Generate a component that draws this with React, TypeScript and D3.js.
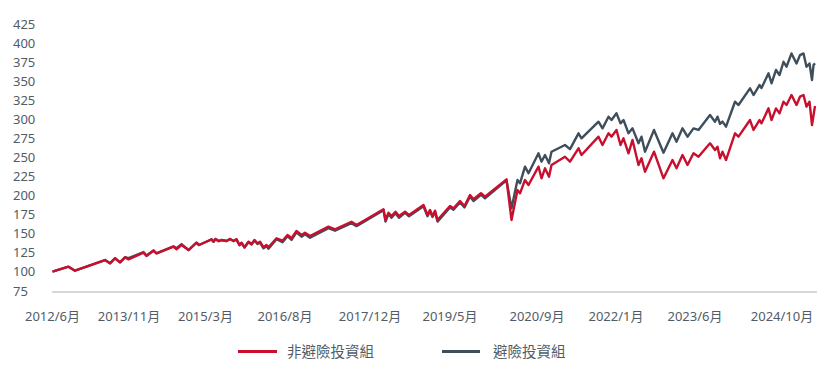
import * as d3 from 'd3'

// x positions are period indices on the chart's category axis
const periods = [
  0, 3.2, 4.5, 10.5, 11.5, 12.5, 13.5, 14.5, 15.2, 18.2, 18.8, 20.2, 20.8, 24.2, 24.8, 25.8, 27.2, 28.8, 29.3,
  31.2, 31.8, 32.2, 32.6, 33.2, 33.8, 34.8, 35.5, 36.2, 36.8, 37.4, 37.8, 38.4, 39.2, 39.8, 40.4, 41, 41.5,
  42.2, 42.8, 43.2, 44.8, 46, 47, 47.8, 48.8, 49.8, 50.5, 51.5, 55.2, 56.5, 59.8, 60.8,
  66.2, 66.6, 67.2, 67.8, 68.6, 69.3, 70.5, 71.3, 74.2, 75, 75.5, 76, 76.5, 77, 79.5, 80.2, 81.5, 82.4,
  83.5, 84.2, 85.7, 86.5, 90.8, 91.8, 93, 93.5, 94.5, 95.2, 97.2, 97.8, 98.5, 99.3, 99.8, 102.5, 103.5,
  105.2, 105.8, 109.2, 110, 111.2, 111.8, 112.8, 113.6, 114.2, 115.2, 116, 117.2, 117.8, 118.5, 120.3,
  122.2, 124, 124.8, 126, 127, 128.2, 129.2, 131.5, 132.5, 133, 133.5, 134, 134.7, 136.5, 137.2, 139.5,
  140.2, 141.4, 141.8, 143.2, 143.8, 144.7, 145.4, 146.2, 146.8, 147.8, 148.8, 149.5, 150.2, 150.8,
  151.4, 151.9, 152.2, 152.5,
]

const unhedged = [
  100.3, 106.9, 101.6, 115.6, 111.3, 117.9, 112.6, 119.2, 116.5, 125.2, 120.9, 127.8, 124.4, 133.1, 129.7, 135.3, 128.7, 138.3, 135.3,
  140.9, 142.7, 139.6, 143.2, 140.5, 141.8, 140.5, 143.2, 140.5, 142.7, 135.3, 138.3, 132.3, 139.6, 136.6, 141.8, 137.5, 139.6,
  132.3, 135.3, 132.3, 144.1, 140.9, 148.4, 144.1, 153.6, 148.4, 151.4, 147.1, 159.3, 155.9, 165.8, 161.5,
  182.1, 168.1, 177.6, 173.3, 178.9, 173.3, 178.9, 174.6, 187.7, 174.6, 181.2, 173.3, 180.3, 168.1, 186.4, 183.4, 193, 186.4,
  200.8, 195.2, 203.1, 198.6, 221.4, 168.1, 207.3, 203, 220.5, 213.9, 238, 222.7, 235.8, 224.8, 240.2, 251, 244.5,
  262, 253.3, 277.3, 266.4, 281.7, 277.3, 286.1, 266.4, 275.2, 255.5, 273, 240.2, 248.9, 231.4, 257.6,
  222.7, 246.7, 235.8, 253.3, 240.2, 255.5, 251, 268.6, 259.8, 264.1, 248.9, 257.6, 246.7, 281.7, 277.3, 299.1,
  286.1, 299.1, 294.8, 314.4, 299.1, 314.4, 307.9, 323.1, 318.8, 331.9, 318.8, 329.7, 331.9, 316.6,
  323.1, 292.6, 305, 317.5,
]

const hedged = [
  100.3, 106.9, 101.6, 115.6, 111.3, 117.9, 112.6, 119.2, 118, 126, 121.5, 128.3, 124.4, 133.5, 131, 136.5, 128.7, 138.3, 135.3,
  140.9, 142.7, 139.6, 143.2, 140.5, 141.8, 140.5, 143.2, 140.5, 142.7, 135, 138, 132, 139.2, 136, 141.2, 136.5, 138.5,
  131, 134, 130.5, 143, 139, 146.8, 142, 152, 146.2, 149.5, 144.8, 157.5, 154, 164, 160,
  181, 166, 176, 171, 177, 171, 177.5, 173, 186, 173, 180, 172, 179, 166, 184.5, 181.5, 191, 184.5,
  199, 193, 201, 196.5, 220, 183.4, 220.5, 216.2, 238, 229.3, 255.5, 244.5, 253.3, 242.4, 257.6, 266.4, 261,
  281.7, 275.2, 296.9, 288.2, 303.5, 299.1, 307.9, 294.8, 299.1, 281.7, 288.2, 268.6, 277.3, 257.6, 286.1,
  256.3, 281.7, 270.7, 288.2, 277.3, 288.2, 286.1, 305.7, 296.9, 303.5, 294, 297, 290.4, 323.1, 318.8, 340.7,
  331.9, 345, 341, 360.3, 347.3, 364.7, 358.1, 375.5, 369, 386.4, 373.3, 384.2, 386.4, 369,
  373.3, 351.6, 371.2, 373.3,
]

const tickLabels = ['2012/6月', '2013/11月', '2015/3月', '2016/8月', '2017/12月', '2019/5月', '2020/9月', '2022/1月', '2023/6月', '2024/10月']
const tickPeriods = [0, 15.3, 30.6, 46.5, 63.5, 79.5, 96.9, 112.7, 128.5, 145.9]
const yTicks = [75, 100, 125, 150, 175, 200, 225, 250, 275, 300, 325, 350, 375, 400, 425]

const seriesNames = ['非避險投資組', '避險投資組']
const RED = '#c8102e'
const SLATE = '#3e4f5b'
const TEXT = '#525c66'
const FONT = '"Noto Sans", "Noto Sans CJK TC", sans-serif'

export default function App() {
  const width = 837
  const height = 385

  const x = d3.scaleLinear().domain([0, 152.5]).range([52.5, 815])
  const y = d3.scaleLinear().domain([75, 425]).range([291, 24])

  const line = d3.line<number>()
    .x((_, i) => x(periods[i]))
    .y(d => y(d))

  return (
    <svg width={width} height={height} style={{ position: 'absolute', left: 0, top: 0, background: '#fff' }}>
      <g fontFamily={FONT} fill={TEXT}>
        {yTicks.map(t => (
          <text key={t} x={13} y={y(t)} dy="0.35em" fontSize={13}>{t}</text>
        ))}
        {tickLabels.map((l, i) => (
          <text key={l} x={x(tickPeriods[i])} y={321} textAnchor="middle" fontSize={13}>{l}</text>
        ))}
      </g>
      <line x1={52} x2={817} y1={y(75) + 1} y2={y(75) + 1} stroke="#c9cdd1" strokeWidth={1.5} />
      <path d={line(hedged) ?? ''} fill="none" stroke={SLATE} strokeWidth={2.4} strokeLinejoin="round" />
      <path d={line(unhedged) ?? ''} fill="none" stroke={RED} strokeWidth={2.4} strokeLinejoin="round" />
      <g fontFamily={FONT} fontSize={14.5} fill={TEXT}>
        <line x1={238} x2={277} y1={351.5} y2={351.5} stroke={RED} strokeWidth={3} />
        <text x={287} y={351.5} dy="0.35em">{seriesNames[0]}</text>
        <line x1={442} x2={480} y1={351.5} y2={351.5} stroke={SLATE} strokeWidth={3} />
        <text x={493} y={351.5} dy="0.35em">{seriesNames[1]}</text>
      </g>
    </svg>
  )
}
